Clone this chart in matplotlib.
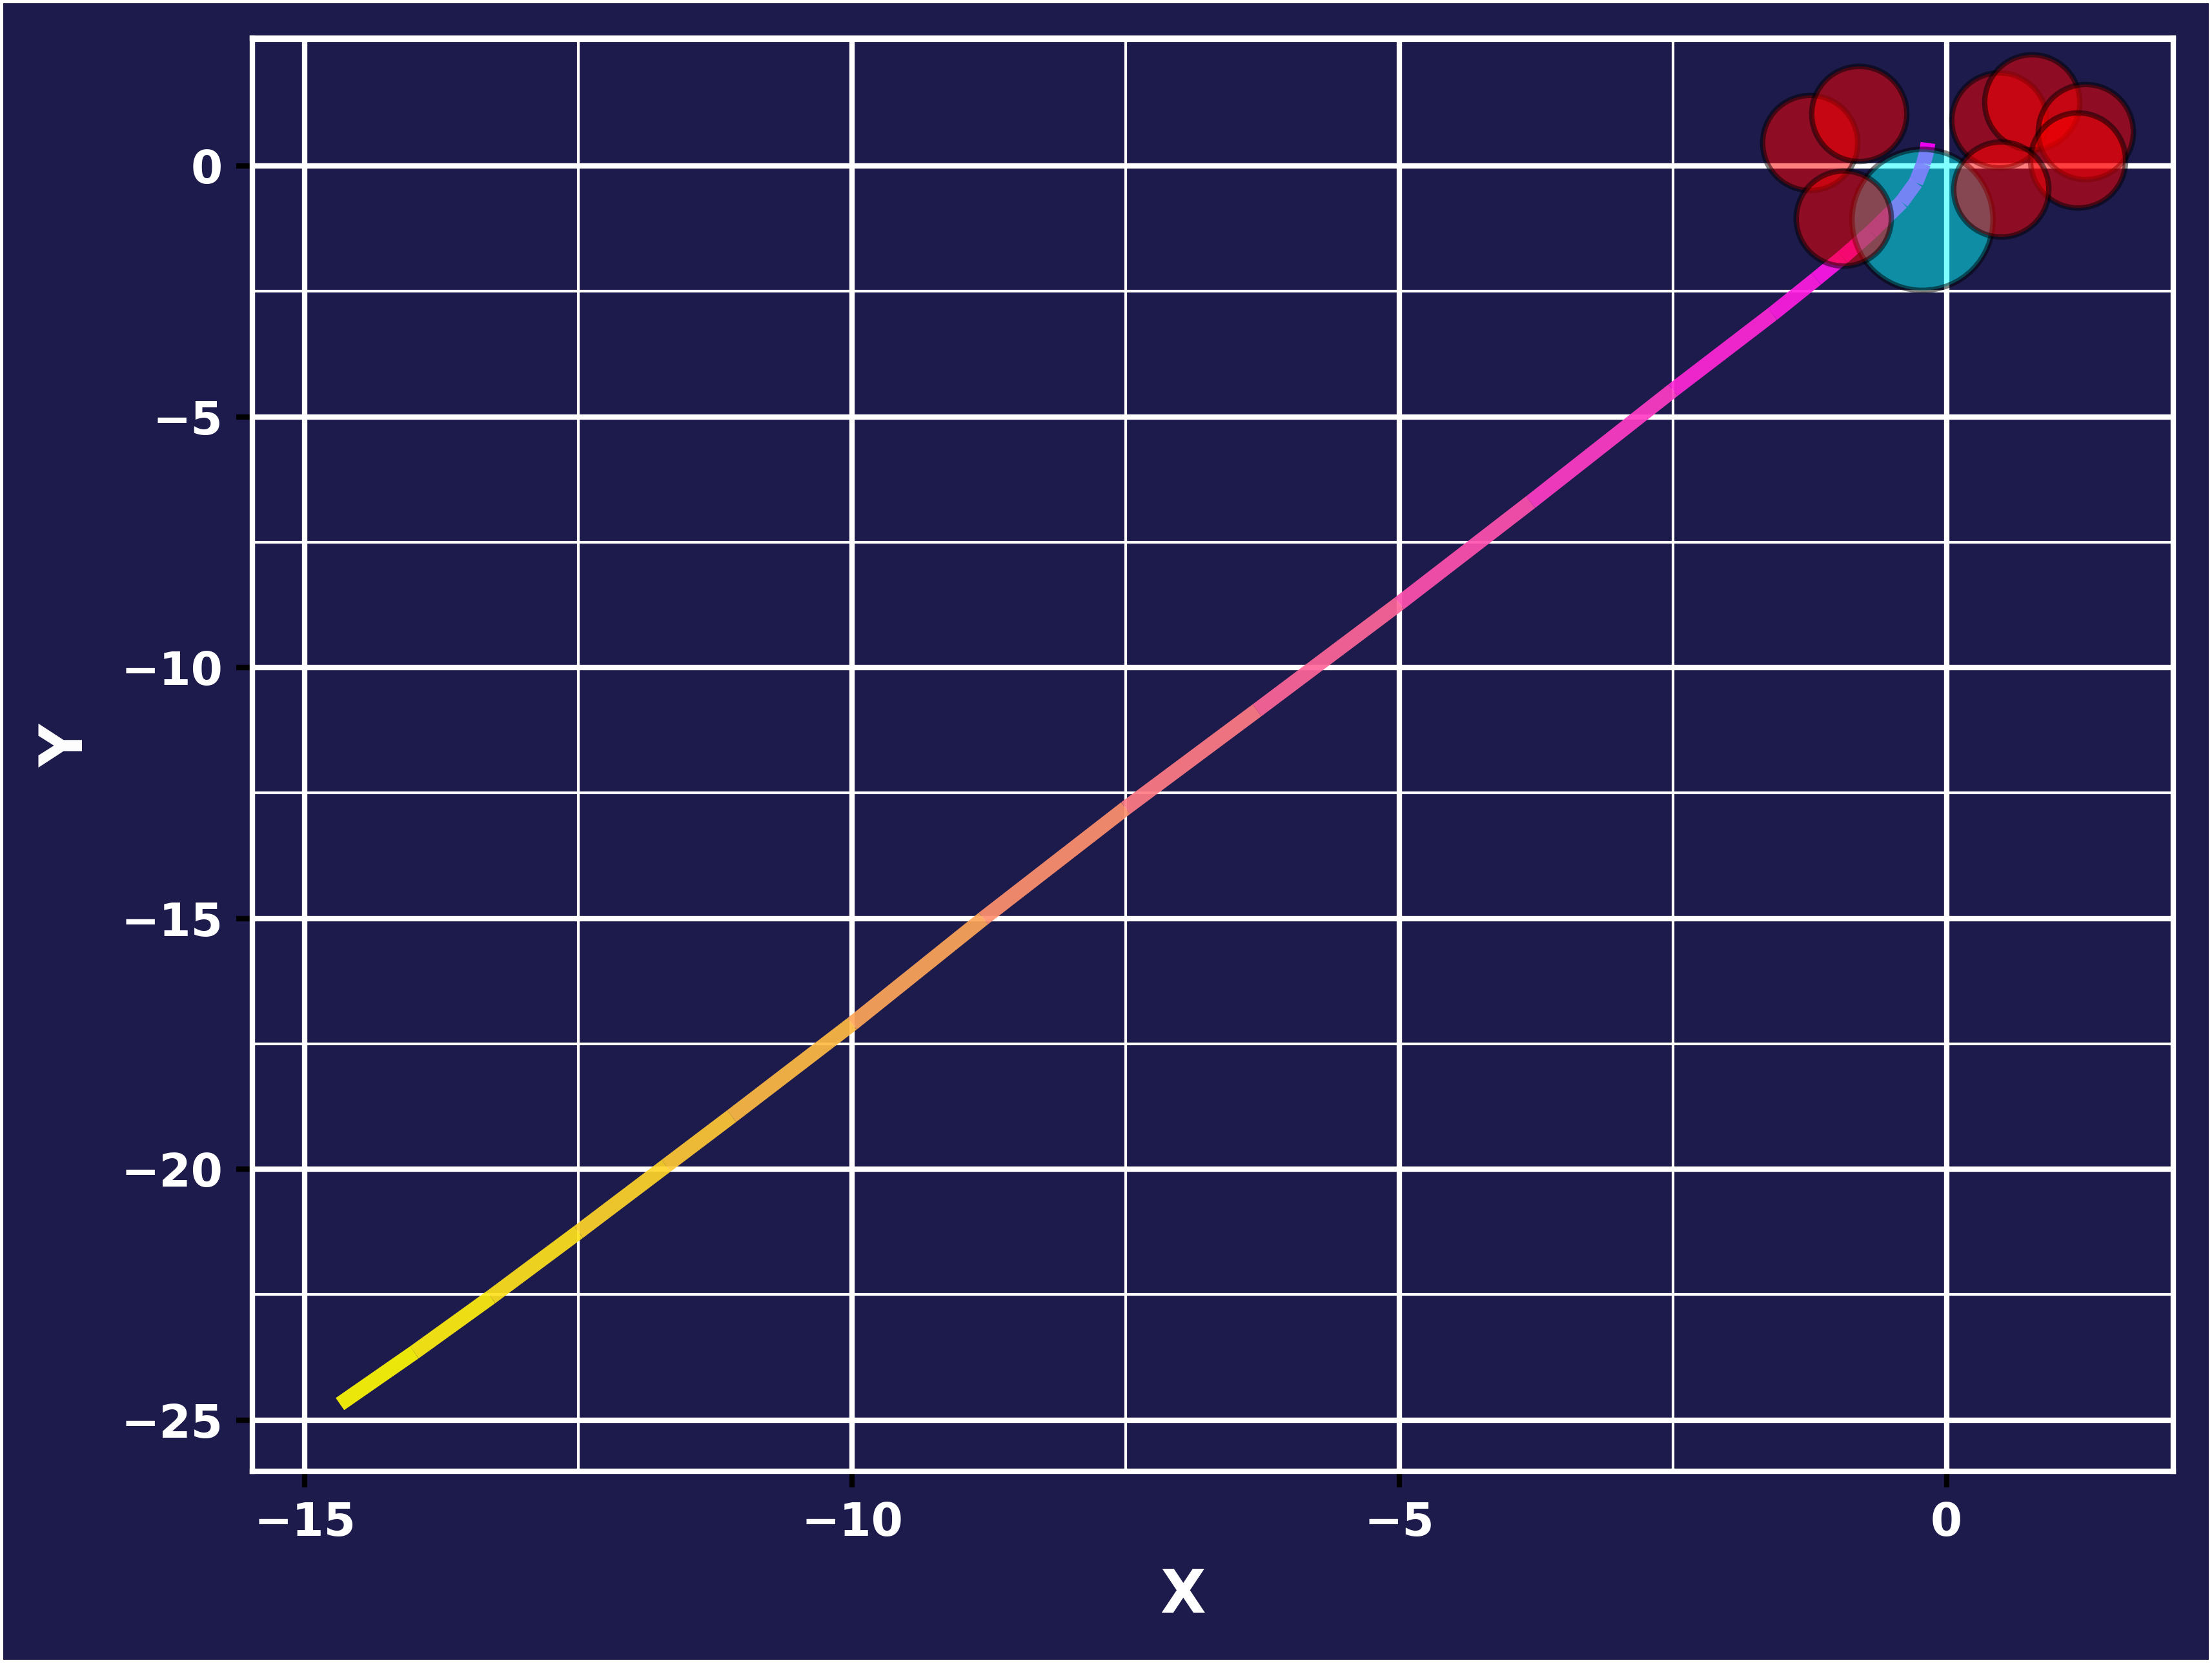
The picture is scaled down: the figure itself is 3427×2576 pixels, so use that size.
import numpy as np
import matplotlib
matplotlib.use("Agg")
import matplotlib.pyplot as plt
from matplotlib.collections import LineCollection
from matplotlib.ticker import MultipleLocator

# trajectory
traj_x = [-14.68, -14.00, -13.30, -12.50, -11.70, -11.10, -10.00, -8.80,
          -7.50, -6.30, -5.00, -3.80, -2.50, -1.59, -1.19, -0.95, -0.69,
          -0.41, -0.28, -0.21, -0.18, -0.17]
traj_y = [-24.68, -23.65, -22.55, -21.25, -19.93, -18.94, -17.10, -15.00,
          -12.80, -10.85, -8.72, -6.70, -4.47, -2.95, -2.25, -1.82, -1.32,
          -0.72, -0.33, 0.05, 0.30, 0.46]

# obstacles (red) and goal (cyan)
obst_x = [-1.25, -0.80, -0.94, 0.48, 0.78, 1.27, 1.20, 0.50]
obst_y = [0.46, 1.04, -1.04, 0.91, 1.28, 0.68, 0.12, -0.46]
goal_x = [-0.22]
goal_y = [-1.06]

bg = "#1d1b4b"

fig = plt.figure(figsize=(3427 / 300, 2576 / 300), dpi=300, facecolor=bg)
fig.patch.set_edgecolor("white")
fig.patch.set_linewidth(2)
ax = fig.add_axes([0.1141, 0.1153, 0.8683, 0.8618])
ax.set_facecolor(bg)

# gradient line, coloured by distance along the path
pts = np.column_stack([traj_x, traj_y])
segs = np.stack([pts[:-1], pts[1:]], axis=1)
d = np.hypot(np.diff(traj_x), np.diff(traj_y))
s = np.concatenate([[0], np.cumsum(d)])
mid = (s[:-1] + s[1:]) / 2 / s[-1]
lc = LineCollection(segs, cmap="spring_r", linewidths=5.5, alpha=0.92,
                    capstyle="butt", joinstyle="round", zorder=3)
lc.set_array(mid)
lc.set_clim(0, 1)
ax.add_collection(lc)

ax.scatter(goal_x, goal_y, s=2750, c="cyan", alpha=0.5,
           edgecolors="black", linewidths=2, zorder=4)
ax.scatter(obst_x, obst_y, s=1250, c="red", alpha=0.5,
           edgecolors="black", linewidths=2, zorder=5)

ax.set_xlim(-15.48, 2.07)
ax.set_ylim(-26.02, 2.55)

ax.xaxis.set_major_locator(MultipleLocator(5))
ax.yaxis.set_major_locator(MultipleLocator(5))
ax.xaxis.set_minor_locator(MultipleLocator(2.5))
ax.yaxis.set_minor_locator(MultipleLocator(2.5))
ax.grid(which="major", color="white", linewidth=2)
ax.grid(which="minor", color="white", linewidth=1)
ax.set_axisbelow(True)

for sp in ax.spines.values():
    sp.set_color("white")
    sp.set_linewidth(2)

ax.tick_params(which="major", length=6, width=2, color="black", pad=5,
               labelcolor="white", labelsize=17)
ax.tick_params(which="minor", length=0)
for lab in ax.get_xticklabels() + ax.get_yticklabels():
    lab.set_fontweight("bold")

ax.set_xlabel("X", fontsize=22, fontweight="bold", color="white",
              va="baseline", ha="center")
ax.set_ylabel("Y", fontsize=22, fontweight="bold", color="white",
              va="baseline", ha="center")
ax.xaxis.set_label_coords(0.4844, -0.0986)
ax.yaxis.set_label_coords(-0.0880, 0.5063)

fig.savefig("out.png", dpi=300, facecolor=bg, edgecolor="white")
